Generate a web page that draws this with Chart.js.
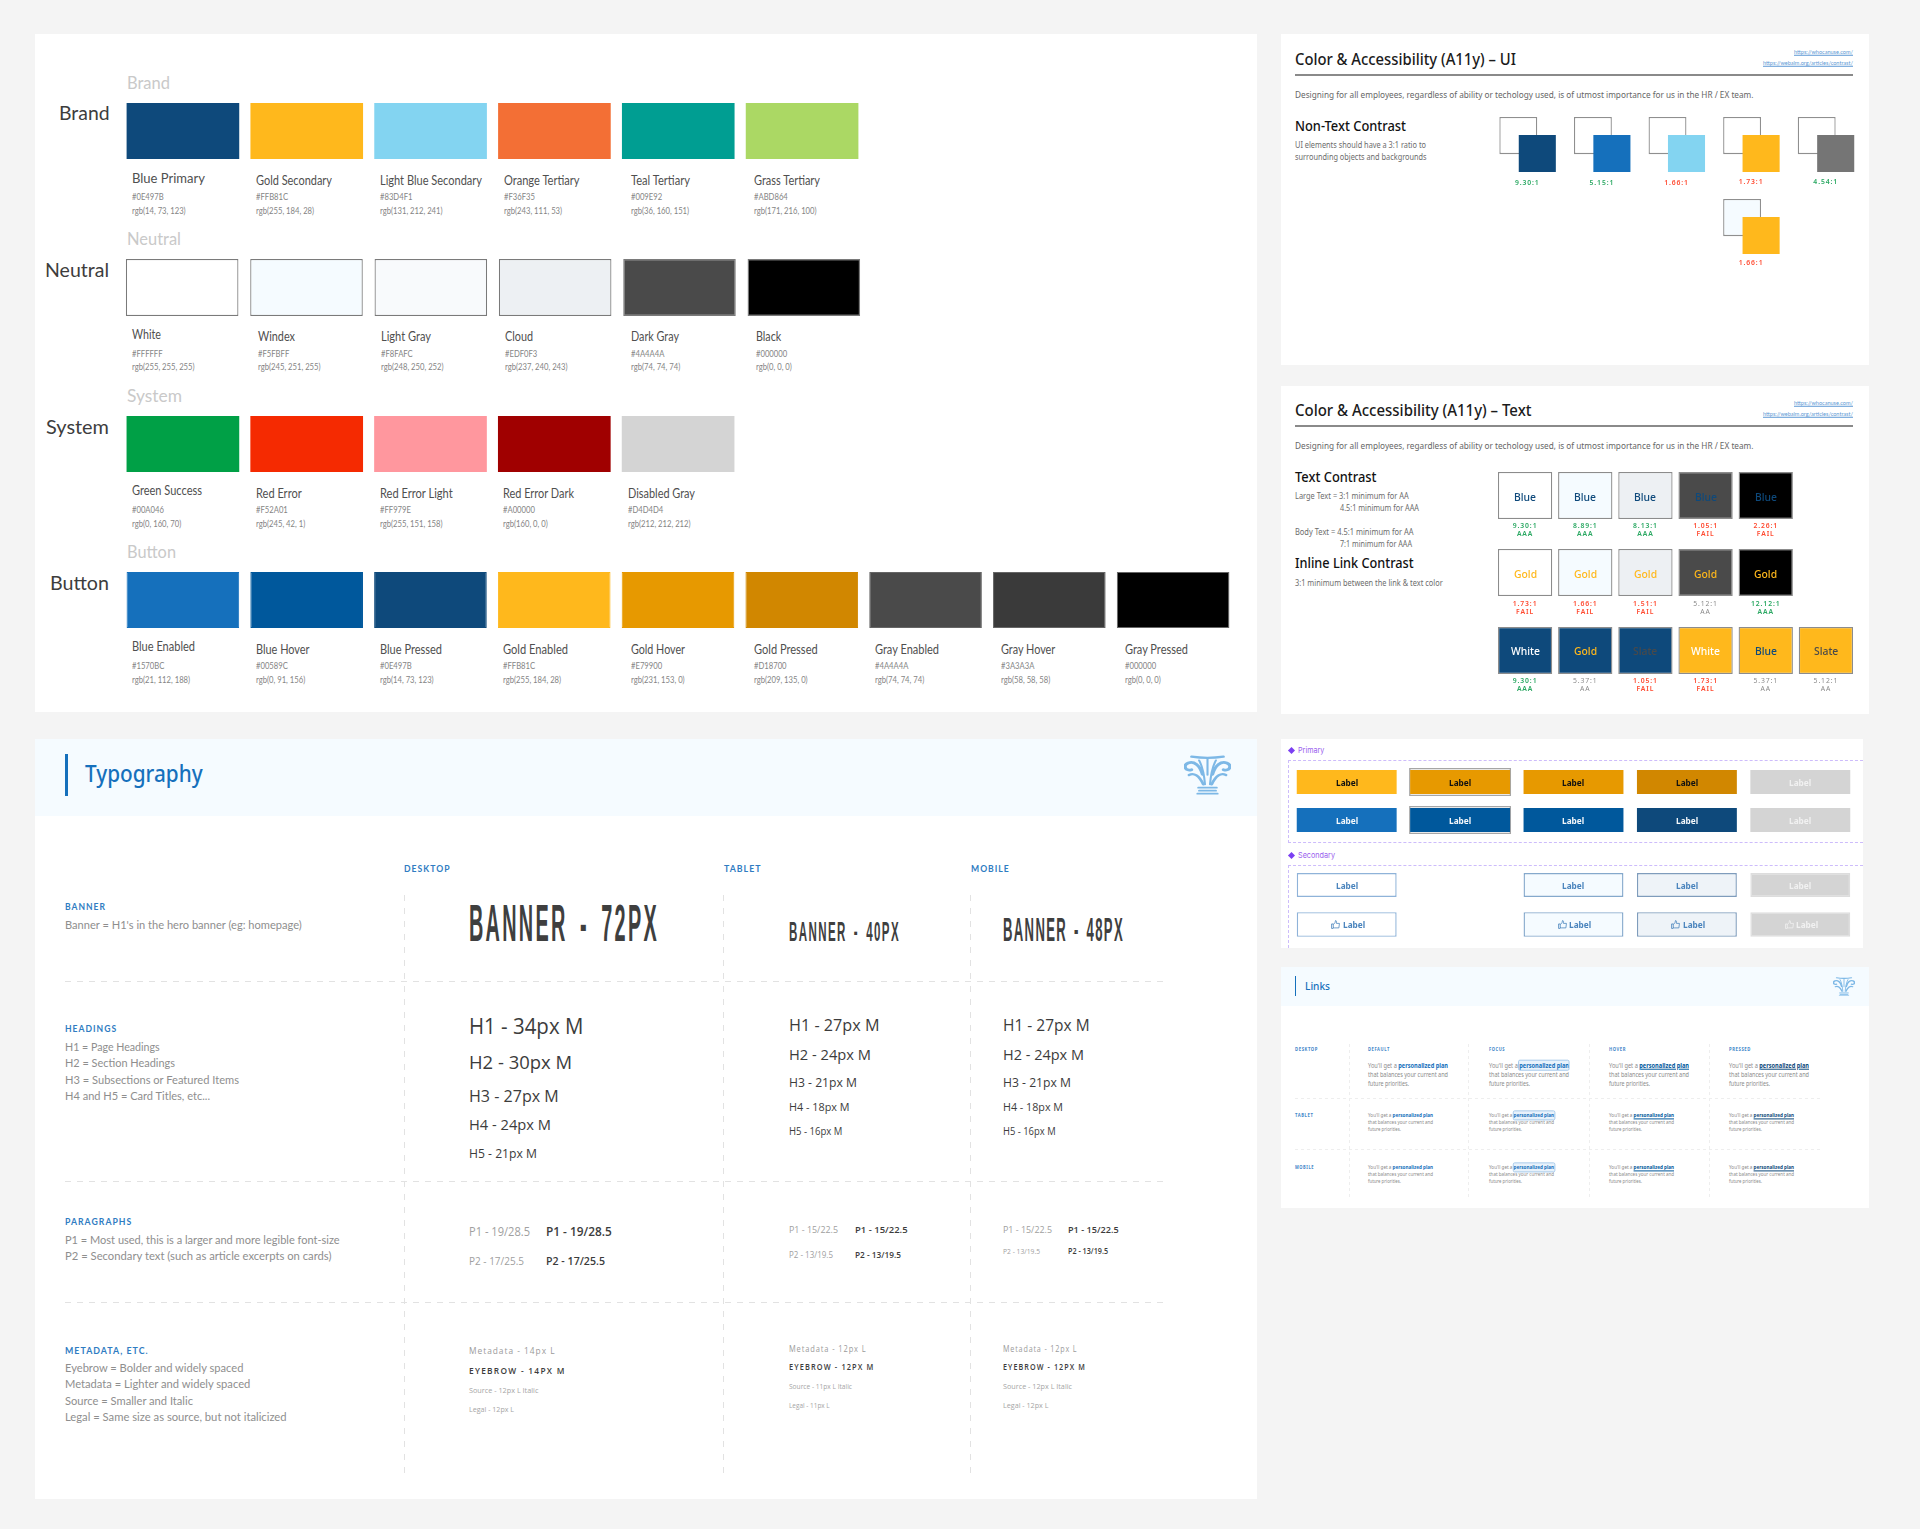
<!DOCTYPE html>
<html lang="en"><head><meta charset="utf-8"><title>Design system sheet</title>
<script src="https://cdn.jsdelivr.net/npm/chart.js@4"></script>
<style>
html,body{margin:0;padding:0;background:#f4f4f4;width:1920px;height:1529px;overflow:hidden}
#page{position:absolute;left:0;top:0;width:1920px;height:1529px;overflow:hidden}
.t{position:absolute;white-space:nowrap;line-height:1;transform-origin:left center;font-family:Lato,sans-serif}
.p{position:absolute}
.p svg{display:block}
canvas{position:absolute;display:block}
.t b.l{font-weight:700}
</style></head><body><div id="page"></div>
<script>
/* ---------- data ---------- */
const brandNames=['Blue Primary','Gold Secondary','Light Blue Secondary','Orange Tertiary','Teal Tertiary','Grass Tertiary'];
const brandHex=['#0E497B','#FFB81C','#83D4F1','#F36F35','#009E92','#ABD864'];
const brandRgb=['rgb(14, 73, 123)','rgb(255, 184, 28)','rgb(131, 212, 241)','rgb(243, 111, 53)','rgb(36, 160, 151)','rgb(171, 216, 100)'];
const neutralNames=['White','Windex','Light Gray','Cloud','Dark Gray','Black'];
const neutralHex=['#FFFFFF','#F5FBFF','#F8FAFC','#EDF0F3','#4A4A4A','#000000'];
const neutralRgb=['rgb(255, 255, 255)','rgb(245, 251, 255)','rgb(248, 250, 252)','rgb(237, 240, 243)','rgb(74, 74, 74)','rgb(0, 0, 0)'];
const systemNames=['Green Success','Red Error','Red Error Light','Red Error Dark','Disabled Gray'];
const systemHex=['#00A046','#F52A01','#FF979E','#A00000','#D4D4D4'];
const systemRgb=['rgb(0, 160, 70)','rgb(245, 42, 1)','rgb(255, 151, 158)','rgb(160, 0, 0)','rgb(212, 212, 212)'];
const buttonNames=['Blue Enabled','Blue Hover','Blue Pressed','Gold Enabled','Gold Hover','Gold Pressed','Gray Enabled','Gray Hover','Gray Pressed'];
const buttonHex=['#1570BC','#00589C','#0E497B','#FFB81C','#E79900','#D18700','#4A4A4A','#3A3A3A','#000000'];
const buttonRgb=['rgb(21, 112, 188)','rgb(0, 91, 156)','rgb(14, 73, 123)','rgb(255, 184, 28)','rgb(231, 153, 0)','rgb(209, 135, 0)','rgb(74, 74, 74)','rgb(58, 58, 58)','rgb(0, 0, 0)'];

const uiRatios=['9.30:1','5.15:1','1.66:1','1.73:1','4.54:1'];
const uiFills=['#0E497B','#1570BC','#83D4F1','#FFB81C','#757575'];
const uiRatios2=['','','','1.66:1',''];
const uiFills2=[null,null,null,'#FFB81C',null];

const textRow1Fill=['#FFFFFF','#F5FBFF','#EDF0F3','#4A4A4A','#000000'];
const textRow1Label=['Blue','Blue','Blue','Blue','Blue'];
const textRow1Ink=['#0E497B','#0E497B','#0E497B','#0E497B','#0E497B'];
const textRow1Ratio=['9.30:1','8.89:1','8.13:1','1.05:1','2.26:1'];
const textRow1Grade=['AAA','AAA','AAA','FAIL','FAIL'];
const textRow2Fill=['#FFFFFF','#F5FBFF','#EDF0F3','#4A4A4A','#000000'];
const textRow2Label=['Gold','Gold','Gold','Gold','Gold'];
const textRow2Ink=['#FFB81C','#FFB81C','#FFB81C','#FFB81C','#FFB81C'];
const textRow2Ratio=['1.73:1','1.66:1','1.51:1','5.12:1','12.12:1'];
const textRow2Grade=['FAIL','FAIL','FAIL','AA','AAA'];
const textRow3Fill=['#0E497B','#0E497B','#0E497B','#FFB81C','#FFB81C','#FFB81C'];
const textRow3Label=['White','Gold','Slate','White','Blue','Slate'];
const textRow3Ink=['#FFFFFF','#FFB81C','#4A4A4A','#FFFFFF','#0E497B','#4A4A4A'];
const textRow3Ratio=['9.30:1','5.37:1','1.05:1','1.73:1','5.37:1','5.12:1'];
const textRow3Grade=['AAA','AA','FAIL','FAIL','AA','AA'];

const btnStates=['Enabled','Focus','Hover','Pressed','Disabled'];
const btnGold=['#FFB81C','#E79900','#E79900','#D18700','#D4D4D4'];
const btnBlue=['#1570BC','#00589C','#00589C','#0E497B','#D4D4D4'];
const btnSecondary=['#FFFFFF',null,'#F5FBFF','#EEF3F8','#D4D4D4'];
const btnSecondaryEdge=['#8FB3D9',null,'#85A9CC','#7F9CBC','#DDDDDD'];

const linkStates=['DEFAULT','FOCUS','HOVER','PRESSED'];
const linkDevices=['DESKTOP','TABLET','MOBILE'];

/* ---------- helpers ---------- */
const page=document.getElementById('page');
function box(x,y,w,h,css){const d=document.createElement('div');d.className='p';d.style.cssText=`left:${x}px;top:${y}px;width:${w}px;height:${h}px;${css||''}`;page.appendChild(d);return d;}
function T(txt,x,cy,o={}){
  const e=document.createElement('div');e.className='t';
  if(o.html)e.innerHTML=txt;else e.textContent=txt;
  e.style.fontSize=(o.size||10)+'px';
  e.style.color=o.color||'#4a4a4a';
  e.style.fontWeight=o.weight||400;
  if(o.font)e.style.fontFamily=o.font;
  if(o.italic)e.style.fontStyle='italic';
  if(o.ls)e.style.letterSpacing=o.ls+'px';
  if(o.ws)e.style.wordSpacing=o.ws+'px';
  if(o.underline)e.style.textDecoration='underline';
  e.style.top=cy+'px';
  page.appendChild(e);
  const w0=e.getBoundingClientRect().width;
  const s=o.w?o.w/w0:(o.sx||1);
  const wf=w0*s;
  const left=o.right?x-wf:o.center?x-wf/2:x;
  e.style.left=left+'px';
  e.style.transform=`translateY(-50%) scaleX(${s})`;
  return e;
}
function hdash(x1,x2,y,c,d,g){box(x1,y,x2-x1,1,`background:repeating-linear-gradient(90deg,${c} 0 ${d}px,transparent ${d}px ${d+g}px)`);}
function vdash(x,y1,y2,c,d,g){box(x,y1,1,y2-y1,`background:repeating-linear-gradient(180deg,${c} 0 ${d}px,transparent ${d}px ${d+g}px)`);}
function mount(x,y,w,h){const c=document.createElement('canvas');c.width=w;c.height=h;c.style.left=x+'px';c.style.top=y+'px';c.style.width=w+'px';c.style.height=h+'px';page.appendChild(c);return c;}
function barChart(x,y,w,h,labels,datasets){
  const c=mount(x,y,w,h);
  return new Chart(c.getContext('2d'),{type:'bar',data:{labels,datasets},options:{
    responsive:false,animation:false,devicePixelRatio:1,
    layout:{padding:0},
    plugins:{legend:{display:false},tooltip:{enabled:false},title:{display:false}},
    events:[],
    scales:{x:{display:false,stacked:false,offset:true},y:{display:false,min:0,max:1,beginAtZero:true}}
  }});
}
function swatchRow(labels,fills,x0,pitch,bw,top,h,edge,ew){
  const n=labels.length;const left=Math.round(x0-(pitch-bw)/2);const width=Math.round(n*pitch);
  const values=fills.map(f=>f?1:null);
  const ch=barChart(left,top,width,h,labels,[{data:values,backgroundColor:fills,borderColor:edge||fills,borderWidth:ew||0,borderSkipped:false,inflateAmount:0,barPercentage:bw/pitch,categoryPercentage:1}]);
  return ch.getDatasetMeta(0).data.map(b=>({l:left+b.x-bw/2,c:left+b.x}));
}
function captions(bars,names,hexes,rgbs,ins,widths,yFirst,yName,yHex,yRgb){
  names.forEach((n,i)=>{
    const x=bars[i].l+ins[i];
    T(n,x,i==0?yFirst:yName,{size:12.8,color:'#4f4f4f',w:widths[i]});
    T(hexes[i],x,yHex,{size:9.6,color:'#858585',sx:.8});
    T(rgbs[i],x,yRgb,{size:9.6,color:'#858585',sx:.8});
  });
}

/* ---------- panels ---------- */
box(35,34,1222,677.5,'background:#fff');
box(1281,34,587.6,331,'background:#fff');
box(1281,386,587.6,327.5,'background:#fff');
box(1281,739,582,208.7,'background:#fff');
box(1281,967.3,587.6,240.4,'background:#fff');
box(1281,967.3,587.6,38.7,'background:#f5fbff');
box(35,739,1222,760,'background:#fff');
box(35,739,1222,77.3,'background:#f5fbff');

/* ---------- palette ---------- */
const sw=112.6;
T('Brand',126.6,83.3,{size:17.5,color:'#c9c9c9',w:43});
T('Neutral',126.6,239.3,{size:17.5,color:'#c9c9c9',w:54});
T('System',126.6,395.7,{size:17.5,color:'#c9c9c9',w:55});
T('Button',126.6,552.3,{size:17.5,color:'#c9c9c9',w:49});
T('Brand',109.2,113.3,{size:19.5,color:'#3d3d3d',right:1,w:50.6});
T('Neutral',109.2,270,{size:19.5,color:'#3d3d3d',right:1,w:64});
T('System',109.2,426.7,{size:19.5,color:'#3d3d3d',right:1,w:63});
T('Button',109.2,582.7,{size:19.5,color:'#3d3d3d',right:1,w:59});

captions(swatchRow(brandNames,brandHex,126.3,123.8,sw,103,56),brandNames,brandHex,brandRgb,[5.7,5.3,6.2,5.4,9,8.2],[73,76,102,75.5,59,66],177.7,180,197.3,210.7);
captions(swatchRow(neutralNames,neutralHex,126.3,124.4,sw,259,57,'#7a7a7a',1.2),neutralNames,neutralHex,neutralRgb,[5.7,8.2,6.1,6.1,8.1,8.7],[29,37,50,28,48,25.3],333.7,336.3,353.7,367);
captions(swatchRow(systemNames,systemHex,126.3,123.7,sw,416,56),systemNames,systemHex,systemRgb,[5.7,5.3,5.4,5.4,6],[70,45.7,72.7,71,67],490,492.7,510,523.7);
const buttonEdge=buttonHex.map((h,i)=>i>=6?'#666666':h);
captions(swatchRow(buttonNames,buttonHex,126.3,123.75,sw,572,56,buttonEdge,1),buttonNames,buttonHex,buttonRgb,[5.7,5.3,6.2,5.4,9,8.2,5.7,8.1,8.6],[63,53.5,62,65,54,63.7,64,54.3,62.9],646.3,649,666.3,680);

/* ---------- a11y shared header ---------- */
const desc='Designing for all employees, regardless of ability or techology used, is of utmost importance for us in the HR / EX team.';
function a11yHead(title,titleW,yT,yRule,yL1,yL2,yD){
  T(title,1295.3,yT,{size:16.5,weight:500,color:'#1b1b1b',font:'"Noto Sans"',w:titleW});
  box(1295.3,yRule,557.7,1.3,'background:#8a8a8a');
  T('https://whocanuse.com/',1853,yL1,{size:6.5,color:'#5b97d3',right:1,w:59,underline:1});
  T('https://webaim.org/articles/contrast/',1853,yL2,{size:6.5,color:'#5b97d3',right:1,w:90,underline:1});
  T(desc,1295.3,yD,{size:9.5,color:'#666',font:'"Noto Sans"',w:458.5});
}
const green='#2aa862',red='#ff4a30',grey='#8a8a8a';
const inkFor=g=>g=='FAIL'?red:g=='AA'?grey:green;

/* UI contrast: outlined square behind, filled square in front, each its own bar layer */
a11yHead('Color & Accessibility (A11y) – UI',221,59,74.4,52.3,63.3,95.3);
T('Non-Text Contrast',1295.3,126,{size:14,weight:500,color:'#111',font:'"Noto Sans"',w:111});
T('UI elements should have a 3:1 ratio to',1295.3,145.3,{size:8.5,color:'#6c6c6c',font:'"Noto Sans"',w:131});
T('surrounding objects and backgrounds',1295.3,157,{size:8.5,color:'#6c6c6c',font:'"Noto Sans"',w:131.6});
function uiRow(labels,fills,backFill,top){
  const backRange=[.325,1],frontRange=[0,.675];
  const pitch=74.5,h=55,width=Math.round(pitch*5),barPct=.508;
  const mk=r=>fills.map(f=>f?r:null);
  const common={borderSkipped:false,inflateAmount:0,barPercentage:barPct,categoryPercentage:1};
  const back=barChart(1481,top,width,h,labels,[{data:mk(backRange),backgroundColor:backFill,borderColor:'#8f8f8f',borderWidth:1.3,...common}]);
  barChart(1500,top,width,h,labels,[{data:mk(frontRange),backgroundColor:fills,borderColor:fills,borderWidth:0,...common,barPercentage:.497}]);
  return back;
}
const uiCh=uiRow(uiRatios,uiFills,'#ffffff',117);
uiRatios.forEach((r,i)=>{const x=1490+uiCh.scales.x.getPixelForValue(i);
  T(r,x,i<3?183.3:181.7,{size:6.8,weight:600,ls:.9,color:(i==2||i==3)?red:green,font:'"Noto Sans"',center:1});});
const uiCh2=uiRow(uiRatios2,uiFills2,'#f5fbff',199);
T(uiRatios2[3],1490+uiCh2.scales.x.getPixelForValue(3),263.3,{size:6.8,weight:600,ls:.9,color:red,font:'"Noto Sans"',center:1});

/* text contrast */
a11yHead('Color & Accessibility (A11y) – Text',236.5,409.7,425.3,403,414,446);
T('Text Contrast',1295.3,477,{size:14,weight:500,color:'#111',font:'"Noto Sans"',w:81.5});
[['Large Text = 3:1 minimum for AA',1295,496,113.7],['4.5:1 minimum for AAA',1340,507.7,79],['Body Text = 4.5:1 minimum for AA',1295,531.7,118.6],['7:1 minimum for AAA',1340,543.7,72],['3:1 minimum between the link & text color',1295,582.7,147.7]]
 .forEach(a=>T(a[0],a[1],a[2],{size:8.5,color:'#6c6c6c',font:'"Noto Sans"',w:a[3]}));
T('Inline Link Contrast',1295.3,563.3,{size:14,weight:500,color:'#111',font:'"Noto Sans"',w:118.6});
function textRow(labels,fills,inks,ratios,grades,top,yLab,yR,yG){
  const pad=v=>{const a=v.slice();while(a.length<6)a.push(null);return a;};
  const bars=swatchRow(pad(labels).map(l=>l||''),pad(fills),1498,60.15,54.3,top,47,'#8c8c8c',1.3);
  labels.forEach((l,i)=>{const x=bars[i].c;
    T(l,x,yLab,{size:11.5,weight:500,color:inks[i],font:'"Noto Sans"',center:1,sx:.9});
    const c=inkFor(grades[i]);
    T(ratios[i],x,yR,{size:6.8,weight:grades[i]=='AA'?400:600,ls:.9,color:c,font:'"Noto Sans"',center:1});
    T(grades[i],x,yG,{size:6.8,weight:grades[i]=='AA'?400:600,ls:.9,color:c,font:'"Noto Sans"',center:1});
  });
}
textRow(textRow1Label,textRow1Fill,textRow1Ink,textRow1Ratio,textRow1Grade,472,497.3,526.3,534.3);
textRow(textRow2Label,textRow2Fill,textRow2Ink,textRow2Ratio,textRow2Grade,549,574,603.7,611.7);
textRow(textRow3Label,textRow3Fill,textRow3Ink,textRow3Ratio,textRow3Grade,627,651.3,680.7,688.7);

/* ---------- buttons ---------- */
box(1288,759.7,575,83,'border:1.5px dashed #cdbcfb;border-right:none;box-sizing:border-box');
box(1288,864.7,575,83,'border:1.5px dashed #cdbcfb;border-right:none;border-bottom:none;box-sizing:border-box');
function diamond(x,y){box(x-2.5,y-2.5,5,5,'background:#7b3ff2;transform:rotate(45deg)');}
diamond(1291.5,750.3);T('Primary',1297.6,750.3,{size:8,color:'#9a62ee',font:'Inter',w:26.4});
diamond(1291.5,855.3);T('Secondary',1297.6,855.3,{size:8,color:'#9a62ee',font:'Inter',w:37});
function btnRow(fills,edges,focus,top,h){
  const left=1290,pitch=113.4;
  const inner=[.075,.925];
  const ds=[{data:fills.map(f=>f?inner:null),backgroundColor:fills,borderColor:edges||fills,borderWidth:edges?1.4:0,borderSkipped:false,inflateAmount:0,barPercentage:.881,categoryPercentage:1,grouped:false,order:1}];
  if(focus)ds.push({data:fills.map((f,i)=>i==1?[0,1]:null),backgroundColor:'#ffffff',borderColor:'#a6a6a6',borderWidth:1.5,borderSkipped:false,inflateAmount:0,barPercentage:.9,categoryPercentage:1,grouped:false,order:2});
  return barChart(left,top,Math.round(pitch*5),h,btnStates,ds);
}
const thumb=(x,y,c)=>{const d=box(x-4.5,y-4.5,9,9,'');d.innerHTML=`<svg width="9" height="9" viewBox="0 0 16 16" fill="none" stroke="${c}" stroke-width="1.4"><path d="M1 7h3v8H1zM4 8l3-3 1-4c2 0 2 2 1.6 5H15l-1 8H6l-2-1"/></svg>`;};
function btnLabels(ch,fills,cy,ink,icon){
  fills.forEach((f,i)=>{ if(!f)return; const cx=1290+ch.scales.x.getPixelForValue(i);
    const c=i==4?'#f1f1f1':ink;
    if(icon){thumb(cx-11,cy,c);T('Label',cx+7,cy,{size:9,weight:700,color:c,font:'"Noto Sans"',center:1,sx:.92});}
    else T('Label',cx,cy,{size:9,weight:700,color:c,font:'"Noto Sans"',center:1,sx:.92});
  });
}
let r;
r=btnRow(btnGold,null,true,768,28);btnLabels(r,btnGold,782,'#111');
r=btnRow(btnBlue,null,true,806,28);btnLabels(r,btnBlue,820.3,'#f4f8fb');
r=btnRow(btnSecondary,btnSecondaryEdge,false,871,28);btnLabels(r,btnSecondary,885.3,'#4a84bd');
r=btnRow(btnSecondary,btnSecondaryEdge,false,910,29);btnLabels(r,btnSecondary,924.3,'#4a84bd',true);

/* ---------- links ---------- */
box(1295.2,976,1.3,19.7,'background:#1570bc');
T('Links',1305.3,985.7,{size:10.5,weight:500,color:'#1570bc',font:'"Noto Sans"',w:25});
function logo(x,y,w,h){const d=box(x,y,w,h,'');
 d.innerHTML=`<svg width="${w}" height="${h}" viewBox="4 0 112 120" preserveAspectRatio="none" fill="none" stroke="#7db8e6" stroke-linecap="round">
 <path d="M22 5Q60 12 98 5" stroke-width="7"/><path d="M60 12V60" stroke-width="5"/>
 <path d="M48 58C42 30 28 18 14 24C0 32 8 50 22 44" stroke-width="8"/><path d="M72 58C78 30 92 18 106 24C120 32 112 50 98 44" stroke-width="8"/>
 <path d="M50 88C40 62 28 52 16 60" stroke-width="7"/><path d="M70 88C80 62 92 52 104 60" stroke-width="7"/>
 <path d="M40 16C48 34 52 60 54 88M80 16C72 34 68 60 66 88" stroke-width="5"/>
 <path d="M38 98H82" stroke-width="5"/><path d="M40 107H80" stroke-width="5"/><path d="M36 116H84" stroke-width="5"/></svg>`;}
logo(1833,976.7,22,19.5);
const linkCols=[1368.4,1488.6,1608.7,1728.5];
const linkW=[21.8,16,17,22];
linkStates.forEach((s,i)=>T(s,linkCols[i],1049,{size:5,weight:700,color:'#3f86c9',font:'"Noto Sans"',ls:.7,w:linkW[i]}));
[[1049,23],[1115.3,18.5],[1167,19]].forEach((a,i)=>T(linkDevices[i],1295,a[0],{size:5,weight:700,color:'#3f86c9',font:'"Noto Sans"',ls:.7,w:a[1]}));
[1348.9,1468.3,1588.8,1709].forEach(x=>vdash(x,1044,1198.7,'#eeeeee',3,3));
hdash(1295,1822.7,1097.7,'#eeeeee',3,3);hdash(1295,1822.7,1149.3,'#eeeeee',3,3);
const linkStyles=[
 'color:#1570bc',
 'color:#1570bc;background:#e8f2fb;outline:.7px solid #9cc4e8;border-radius:1px',
 'color:#00589c;text-decoration:underline',
 'color:#0e497b;text-decoration:underline'];
function linkCell(i,ys,size,w1,w2,w3){
  const x=linkCols[i];
  T(`You'll get a <b class="l" style="${linkStyles[i]}">personalized plan</b>`,x,ys[0],{html:1,size,color:'#8a8a8a',font:'"Noto Sans"',w:w1});
  T('that balances your current and',x,ys[1],{size,color:'#8a8a8a',font:'"Noto Sans"',w:w2});
  T('future priorities.',x,ys[2],{size,color:'#8a8a8a',font:'"Noto Sans"',w:w3});
}
linkStates.forEach((s,i)=>{
  linkCell(i,[1066,1074.7,1083.7],6.6,80,80,41);
  linkCell(i,[1116.3,1123.3,1130.3],5.2,65,65,33);
  linkCell(i,[1168,1175,1182],5.2,65,65,33);
});

/* ---------- typography ---------- */
box(65,754.3,2.6,41.7,'background:#1570bc');
T('Typography',85,773.3,{size:23,weight:500,color:'#1570bc',font:'"Noto Sans"',w:117.6});
logo(1183.5,755,47,40);
const blue='#2f7cc2',ink='#3f3f3f';
const eb=(s,y,w)=>T(s,64.7,y+1,{size:8.5,weight:700,color:blue,ls:1,w});
const dl=(s,y,w)=>T(s,64.7,y-.2,{size:11.5,weight:400,color:'#8e8e8e',w});
T('DESKTOP',403.9,868.7,{size:8.5,weight:700,color:blue,ls:1,w:46.5});
T('TABLET',724,868.7,{size:8.5,weight:700,color:blue,ls:1,w:37.6});
T('MOBILE',970.8,868.7,{size:8.5,weight:700,color:blue,ls:1,w:38.8});
[403.5,723.3,970.4].forEach(x=>vdash(x,895,1478.3,'#e2e2e2',6,7));
[981.3,1181,1302].forEach(y=>hdash(64.7,1163,y,'#e2e2e2',6,6));
eb('BANNER',906,41);dl("Banner = H1's in the hero banner (eg: homepage)",925,236.7);
eb('HEADINGS',1028.3,52.2);
dl('H1 = Page Headings',1047.3,94.7);dl('H2 = Section Headings',1063.3,110);dl('H3 = Subsections or Featured Items',1080.3,174);dl('H4 and H5 = Card Titles, etc...',1096.3,145);
eb('PARAGRAPHS',1221.3,67.3);
dl('P1 = Most used, this is a larger and more legible font-size',1240.3,274.7);dl('P2 = Secondary text (such as article excerpts on cards)',1256.3,266.5);
eb('METADATA, ETC.',1349.7,83.7);
dl('Eyebrow = Bolder and widely spaced',1368.3,178.4);dl('Metadata = Lighter and widely spaced',1384.3,185.3);dl('Source = Smaller and Italic',1401.3,128);dl('Legal = Same size as source, but not italicized',1417.3,221.6);
const ban=(s,x,y,size,w,ls,ws)=>T(s,x,y,{size,weight:700,color:ink,ls,ws,font:'"Liberation Sans Narrow","Liberation Sans"',w});
ban('BANNER - 72PX',468.8,922.7,52,190,6,12);ban('BANNER - 40PX',788.9,930.7,28.5,111,3.5,6);ban('BANNER - 48PX',1003.2,929.3,34,121,3.5,5);
const hd=(s,x,y,size,w)=>T(s,x,y-.5,{size,color:'#3c3c3c',font:'"Open Sans"',weight:500,w});
[['H1 - 34px M',1026.7,21,114.3],['H2 - 30px M',1062.7,19,103],['H3 - 27px M',1095,17,89.8],['H4 - 24px M',1124.3,15,82],['H5 - 21px M',1153.3,13,68]].forEach(a=>hd(a[0],468.8,a[1],a[2],a[3]));
[['H1 - 27px M',1024.3,17,90.5],['H2 - 24px M',1054.3,15,82],['H3 - 21px M',1082.7,13,68],['H4 - 18px M',1107.7,11.5,60.5],['H5 - 16px M',1131.7,10,53.4]].forEach(a=>hd(a[0],788.9,a[1],a[2],a[3]));
[['H1 - 27px M',1024.3,17,86.6],['H2 - 24px M',1054.3,15,81],['H3 - 21px M',1082.7,13,68],['H4 - 18px M',1107.7,11.5,60],['H5 - 16px M',1131.7,10,52.6]].forEach(a=>hd(a[0],1003.2,a[1],a[2],a[3]));
const pg=(s,x,y,size,w)=>T(s,x,y,{size,color:'#a0a0a0',font:'"Open Sans"',weight:400,w});
const pb=(s,x,y,size,w)=>T(s,x,y,{size,color:'#3c3c3c',font:'"Open Sans"',weight:600,w});
pg('P1 - 19/28.5',468.8,1232,12,61);pb('P1 - 19/28.5',546,1232,12,65.7);pg('P2 - 17/25.5',468.8,1260,11,55);pb('P2 - 17/25.5',546,1260,11,59);
pg('P1 - 15/22.5',788.5,1230.3,9.5,49);pb('P1 - 15/22.5',854.5,1230.3,9.5,52.6);pg('P2 - 13/19.5',788.5,1254.7,8.5,44);pb('P2 - 13/19.5',854.5,1254.7,8.5,46);
pg('P1 - 15/22.5',1003,1230.3,9.5,49);pb('P1 - 15/22.5',1068,1230.3,9.5,50.6);pg('P2 - 13/19.5',1003,1251.3,8,37);pb('P2 - 13/19.5',1068,1251.3,8,40);
const md=(s,x,y,w)=>T(s,x,y+1,{size:8.5,color:'#9a9a9a',font:'"Open Sans"',ls:1,w});
const me=(s,x,y,w)=>T(s,x,y,{size:8.5,weight:600,color:'#3c3c3c',font:'"Open Sans"',ls:1.3,w});
const ms=(s,x,y,w,it)=>T(s,x,y,{size:7.5,color:'#a5a5a5',font:'"Open Sans"',italic:it,w});
md('Metadata - 14px L',468.8,1349.7,86.5);me('EYEBROW - 14PX M',468.8,1370.7,96.7);ms('Source - 12px L Italic',468.8,1390.7,69.4);ms('Legal - 12px L',468.8,1410.3,45);
md('Metadata - 12px L',788.5,1348,77.5);me('EYEBROW - 12PX M',788.5,1367.3,85.4);ms('Source - 11px L Italic',788.5,1387,63);ms('Legal - 11px L',788.5,1406,40.7);
md('Metadata - 12px L',1003,1348,74.3);me('EYEBROW - 12PX M',1003,1367.3,83);ms('Source - 12px L Italic',1003,1387,69);ms('Legal - 12px L',1003,1406,45.5);
</script></body></html>
